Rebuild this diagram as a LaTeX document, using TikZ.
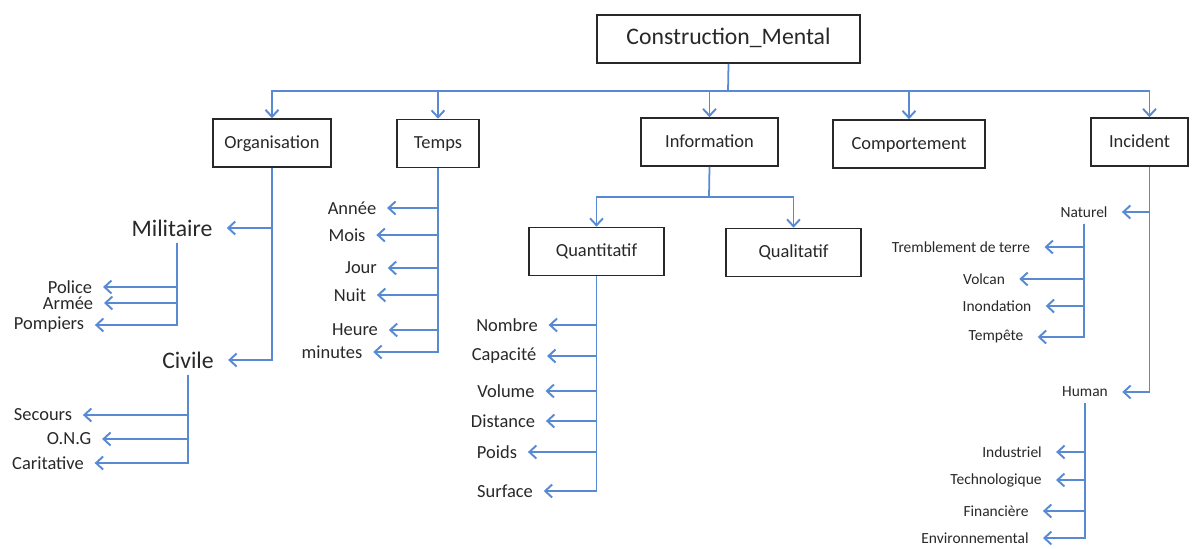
\documentclass[tikz,border=0pt]{standalone}
\usepackage{fontspec}
\setmainfont{Carlito}
\usepackage{tikz}
\usetikzlibrary{arrows.meta}
\definecolor{linkblue}{RGB}{88,138,212}
\definecolor{inkgray}{RGB}{40,40,40}

\begin{document}
\begin{tikzpicture}[x=0.02cm, y=-0.02cm,
    box/.style={draw=inkgray, line width=0.9pt, minimum height=0.96cm, inner sep=0pt, text=inkgray, font=\fontsize{10.5}{12}\selectfont, text height=0.62em, text depth=0pt},
    big/.style={text=inkgray, font=\fontsize{13.5}{16}\selectfont, inner xsep=8pt},
    leaf/.style={text=inkgray, font=\fontsize{10.5}{12}\selectfont, inner xsep=6pt},
    tiny/.style={text=inkgray, font=\fontsize{8.8}{10}\selectfont, inner xsep=8pt},
    spine/.style={draw=linkblue, line width=1pt},
    link/.style={spine, -{Straight Barb[length=1.4mm,width=2.6mm,line width=1.1pt]}}]
    \useasboundingbox (0,0) rectangle (1200,548);

    \coordinate (bus) at (728,91);
    \coordinate (ibus) at (709,197);

    % Boxes
    \node[box, minimum width=5.26cm, font=\fontsize{13.5}{16}\selectfont] (root) at (728.5,39) {Construction\_Mental};
    \node[box, minimum width=2.36cm] (org) at (272,143) {Organisation};
    \node[box, minimum width=1.64cm] (tmp) at (438,143.5) {Temps};
    \node[box, minimum width=2.74cm] (info) at (709.5,142) {Information};
    \node[box, minimum width=3.04cm] (comp) at (909,144) {Comportement};
    \node[box, minimum width=1.94cm] (inc) at (1139.5,142) {Incident};
    \node[box, minimum width=2.7cm] (quant) at (596.5,251.5) {Quantitatif};
    \node[box, minimum width=2.7cm] (qual) at (793.5,252.5) {Qualitatif};

    % Top level links
    \draw[spine] (root.south) -- (bus);
    \draw[link] (bus) -| (org.north);
    \draw[link] (bus) -| (tmp.north);
    \draw[link] (bus) -| (info.north);
    \draw[link] (bus) -| (comp.north);
    \draw[link] (bus) -| ([xshift=2mm]inc.north);

    % Organisation
    \node[big] (mil) at (172,228) {Militaire};
    \node[big] (civ) at (188,360) {Civile};
    \node[leaf] (pol) at (70,287) {Police};
    \node[leaf] (arm) at (68,303) {Armée};
    \node[leaf] (pom) at (49,325) {Pompiers};
    \node[leaf] (sec) at (43,415) {Secours};
    \node[leaf] (ong) at (69,439) {O.N.G};
    \node[leaf] (car) at (48,463) {Caritative};
    \draw[link] (org.south) |- (mil);
    \draw[link] (org.south) |- (civ);
    \draw[link] ([xshift=1mm]mil.south) |- (pol);
    \draw[link] ([xshift=1mm]mil.south) |- (arm);
    \draw[link] ([xshift=1mm]mil.south) |- (pom);
    \draw[link] (civ.south) |- (sec);
    \draw[link] (civ.south) |- (ong);
    \draw[link] (civ.south) |- (car);

    % Temps
    \node[leaf] (ann) at (352,208) {Année};
    \node[leaf] (moi) at (347,235) {Mois};
    \node[leaf] (jou) at (361,268) {Jour};
    \node[leaf] (nui) at (350,295) {Nuit};
    \node[leaf] (heu) at (355,330) {Heure};
    \node[leaf] (min) at (332,352) {minutes};
    \draw[link] (tmp.south) |- (ann);
    \draw[link] (tmp.south) |- (moi);
    \draw[link] (tmp.south) |- (jou);
    \draw[link] (tmp.south) |- (nui);
    \draw[link] (tmp.south) |- (heu);
    \draw[link] (tmp.south) |- (min);

    % Information
    \draw[spine] (info.south) -- (ibus);
    \draw[link] (ibus) -| (quant.north);
    \draw[link] (ibus) -| (qual.north);

    % Quantitatif
    \node[leaf] (nom) at (507,325) {Nombre};
    \node[leaf] (cap) at (504,356) {Capacité};
    \node[leaf] (vol) at (506,391) {Volume};
    \node[leaf] (dis) at (503,421) {Distance};
    \node[leaf] (poi) at (497,452) {Poids};
    \node[leaf] (sur) at (505,491) {Surface};
    \draw[link] (quant.south) |- (nom);
    \draw[link] (quant.south) |- (cap);
    \draw[link] (quant.south) |- (vol);
    \draw[link] (quant.south) |- (dis);
    \draw[link] (quant.south) |- (poi);
    \draw[link] (quant.south) |- (sur);

    % Incident
    \node[tiny] (nat) at (1084,212) {Naturel};
    \node[tiny] (hum) at (1085,392) {Human};
    \draw[link] ([xshift=2mm]inc.south) |- (nat);
    \draw[link] ([xshift=2mm]inc.south) |- (hum);

    \node[tiny] (tre) at (961,247) {Tremblement de terre};
    \node[tiny] (vlc) at (984,279) {Volcan};
    \node[tiny] (ino) at (997,306) {Inondation};
    \node[tiny] (tem) at (996,337) {Tempête};
    \draw[link] (nat.south) |- (tre);
    \draw[link] (nat.south) |- (vlc);
    \draw[link] (nat.south) |- (ino);
    \draw[link] (nat.south) |- (tem);

    \node[tiny] (ind) at (1012,452) {Industriel};
    \node[tiny] (tec) at (996,480) {Technologique};
    \node[tiny] (fin) at (996,511) {Financière};
    \node[tiny] (env) at (975,538) {Environnemental};
    \draw[link] (hum.south) |- (ind);
    \draw[link] (hum.south) |- (tec);
    \draw[link] (hum.south) |- (fin);
    \draw[link] (hum.south) |- (env);

\end{tikzpicture}
\end{document}
